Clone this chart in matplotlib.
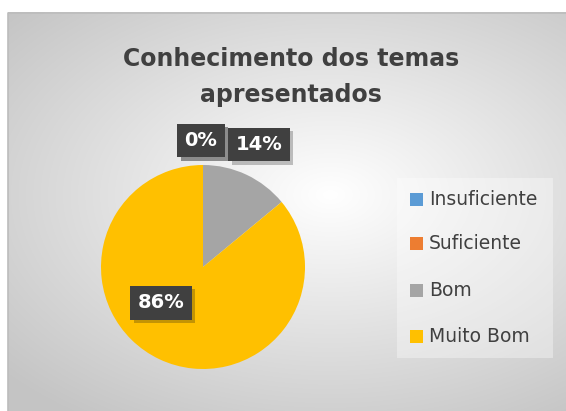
import matplotlib
matplotlib.use("Agg")
import matplotlib.pyplot as plt
import numpy as np
from matplotlib.patches import Rectangle
import matplotlib.patheffects as pe

categories = ["Insuficiente", "Suficiente", "Bom", "Muito Bom"]
values = [0, 0, 14, 86]
colors = ["#5B9BD5", "#ED7D31", "#A5A5A5", "#FFC000"]
title = "Conhecimento dos temas\napresentados"

W, H = 566, 411
fig = plt.figure(figsize=(W / 100, H / 100), dpi=100)

# background: white margin, chart area with radial gradient
bg = fig.add_axes([0, 0, 1, 1])
bg.set_xlim(0, W)
bg.set_ylim(H, 0)
bg.axis("off")
yy, xx = np.mgrid[0:H, 0:W]
d = np.sqrt(((xx - 330) / 322.0) ** 2 + ((yy - 195) / 200.0) ** 2)
g = np.clip(1.0 - 0.17 * d, 0.77, 1.0)
g[:13, :] = 1.0
g[:, :8] = 1.0
img = np.dstack([g, g, g])
bg.imshow(img, extent=[0, W, H, 0], zorder=0)
bg.plot([8, 8, W], [H, 13, 13], color="#bcbcbc", lw=1.2, zorder=2)

# title
bg.text(291, 77, title, ha="center", va="center", fontsize=17, fontweight="bold",
        color="#404040", linespacing=1.65, zorder=3)

# pie
cx, cy, r = 203, 267, 102
ax = fig.add_axes([(cx - r) / W, (H - cy - r) / H, 2 * r / W, 2 * r / H])
ax.pie(values, colors=colors, startangle=90, counterclock=False,
       radius=1, wedgeprops=dict(linewidth=0))
ax.set_xlim(-1, 1)
ax.set_ylim(-1, 1)
ax.set_aspect("equal")
ax.axis("off")

# data labels
label_pos = [(-0.02, 1.24), (-0.02, 1.24), (0.55, 1.20), (-0.41, -0.35)]
for v, (lx, ly) in zip(values, label_pos):
    ax.text(lx, ly, f"{v}%", ha="center", va="center", fontsize=14, fontweight="bold",
            color="white", zorder=5, clip_on=False,
            bbox=dict(boxstyle="square,pad=0.38", fc="#404040", ec="none",
                      path_effects=[pe.SimplePatchShadow(offset=(2.5, -2.5), alpha=0.25),
                                    pe.Normal()]))

# legend panel
bg.add_patch(Rectangle((397, 178), 156, 180, fc="white", ec="none", alpha=0.35, zorder=2))
leg_y = [199, 243, 290, 336]
for cat, c, y in zip(categories, colors, leg_y):
    bg.add_patch(Rectangle((410, y - 6), 13, 13, fc=c, ec="none", zorder=3))
    bg.text(429, y, cat, ha="left", va="center", fontsize=13.5, color="#404040", zorder=3)

fig.savefig("out.png", dpi=100)
